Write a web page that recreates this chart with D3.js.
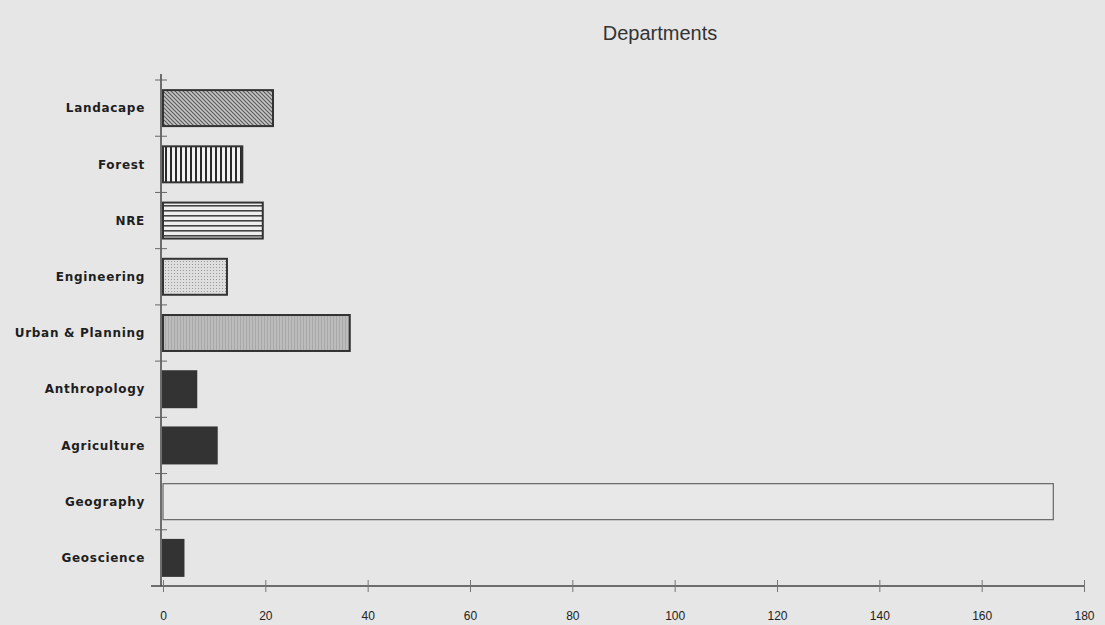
<!DOCTYPE html>
<html>
<head>
<meta charset="utf-8">
<script src="https://cdn.jsdelivr.net/npm/d3@7"></script>
<style>
  body { margin: 0; background: #e6e6e6; }
  svg { display: block; }
  .cat-label { font-family: "DejaVu Sans", Arial, sans-serif; font-weight: bold; font-size: 12px; letter-spacing: 0.7px; fill: #1e1e1e; }
  .tick-label { font-family: "Liberation Sans", Arial, sans-serif; font-size: 12px; fill: #222; }
</style>
</head>
<body>
<svg id="chart"></svg>
<script>
// data
const departments = ["Landacape", "Forest", "NRE", "Engineering", "Urban & Planning",
                     "Anthropology", "Agriculture", "Geography", "Geoscience"];
const counts = [21.5, 15.5, 19.5, 12.5, 36.5, 6.5, 10.5, 174, 4];
const fills = ["url(#diag)", "url(#vert)", "url(#horiz)", "url(#dots)", "url(#fine)",
               "#333", "#333", "#e8e8e8", "#333"];
const xTicks = [0, 20, 40, 60, 80, 100, 120, 140, 160, 180];

const width = 1105, height = 625;
const margin = { top: 80, right: 21, bottom: 39, left: 163 };

const svg = d3.select('#chart')
    .attr('width', width)
    .attr('height', height);

// hatch patterns for the bars
const defs = svg.append('defs');

const diag = defs.append('pattern').attr('id', 'diag')
    .attr('patternUnits', 'userSpaceOnUse').attr('width', 4).attr('height', 4);
diag.append('rect').attr('width', 4).attr('height', 4).attr('fill', '#c4c4c4');
diag.append('path').attr('d', 'M-1,-1 L5,5 M-1,3 L1,5 M3,-1 L5,1')
    .attr('stroke', '#5a5a5a').attr('stroke-width', 1.1);

const vert = defs.append('pattern').attr('id', 'vert')
    .attr('patternUnits', 'userSpaceOnUse').attr('width', 5).attr('height', 5);
vert.append('rect').attr('width', 5).attr('height', 5).attr('fill', '#f2f2f2');
vert.append('rect').attr('width', 2).attr('height', 5).attr('fill', '#2a2a2a');

const horiz = defs.append('pattern').attr('id', 'horiz')
    .attr('patternUnits', 'userSpaceOnUse').attr('width', 5).attr('height', 5);
horiz.append('rect').attr('width', 5).attr('height', 5).attr('fill', '#eeeeee');
horiz.append('rect').attr('width', 5).attr('height', 1.6).attr('fill', '#444');

const dots = defs.append('pattern').attr('id', 'dots')
    .attr('patternUnits', 'userSpaceOnUse').attr('width', 3).attr('height', 3);
dots.append('rect').attr('width', 3).attr('height', 3).attr('fill', '#dedede');
dots.append('rect').attr('width', 1).attr('height', 1).attr('fill', '#999');

const fine = defs.append('pattern').attr('id', 'fine')
    .attr('patternUnits', 'userSpaceOnUse').attr('width', 3).attr('height', 3);
fine.append('rect').attr('width', 3).attr('height', 3).attr('fill', '#bcbcbc');
fine.append('rect').attr('width', 1).attr('height', 3).attr('fill', '#a8a8a8');

// scales
const xScale = d3.scaleLinear()
    .domain([0, 180])
    .range([margin.left, width - margin.right]);

const yScale = d3.scaleBand()
    .domain(departments)
    .range([margin.top, height - margin.bottom])
    .paddingInner(0.36)
    .paddingOuter(0.18);

// title
svg.append('text')
    .attr('x', 660)
    .attr('y', 40)
    .attr('text-anchor', 'middle')
    .style('font-family', '"Liberation Sans", Arial, sans-serif')
    .style('font-size', '20px')
    .style('fill', '#333')
    .text('Departments');

// bars
svg.selectAll('rect.bar')
    .data(departments)
    .join('rect')
    .attr('class', 'bar')
    .attr('x', xScale(0))
    .attr('y', d => yScale(d))
    .attr('width', (d, i) => xScale(counts[i]) - xScale(0))
    .attr('height', yScale.bandwidth())
    .attr('fill', (d, i) => fills[i])
    .attr('stroke', (d, i) => i === 7 ? '#666' : '#333')
    .attr('stroke-width', (d, i) => i === 7 ? 1.2 : 2);

// y axis line and crossing ticks at band boundaries
const y0 = margin.top, y1 = height - margin.bottom;
svg.append('line')
    .attr('x1', margin.left - 2).attr('x2', margin.left - 2)
    .attr('y1', y0 - 6).attr('y2', y1)
    .attr('stroke', '#444').attr('stroke-width', 1.5);

const bounds = d3.range(departments.length).map(i => margin.top + i * yScale.step());
svg.selectAll('line.ytick')
    .data(bounds)
    .join('line')
    .attr('class', 'ytick')
    .attr('x1', margin.left - 8).attr('x2', margin.left + 4)
    .attr('y1', d => d).attr('y2', d => d)
    .attr('stroke', '#666').attr('stroke-width', 1);

// category labels
svg.selectAll('text.cat-label')
    .data(departments)
    .join('text')
    .attr('class', 'cat-label')
    .attr('x', 145)
    .attr('y', d => yScale(d) + yScale.bandwidth() / 2)
    .attr('dy', '0.35em')
    .attr('text-anchor', 'end')
    .text(d => d);

// x axis
const xAxis = d3.axisBottom(xScale)
    .tickValues(xTicks)
    .tickSize(0)
    .tickPadding(25);

const xAxisG = svg.append('g')
    .attr('transform', `translate(0,${y1})`)
    .call(xAxis);

xAxisG.select('.domain')
    .attr('d', `M${margin.left - 12},0H${xScale(180)}`)
    .attr('stroke', '#444')
    .attr('stroke-width', 1.5);

xAxisG.selectAll('.tick line')
    .attr('y1', -6).attr('y2', 6)
    .attr('stroke', '#777')
    .attr('stroke-width', 1);

xAxisG.selectAll('.tick text')
    .attr('class', 'tick-label')
    .attr('font-family', null)
    .attr('font-size', null)
    .attr('fill', null);
</script>
</body>
</html>
